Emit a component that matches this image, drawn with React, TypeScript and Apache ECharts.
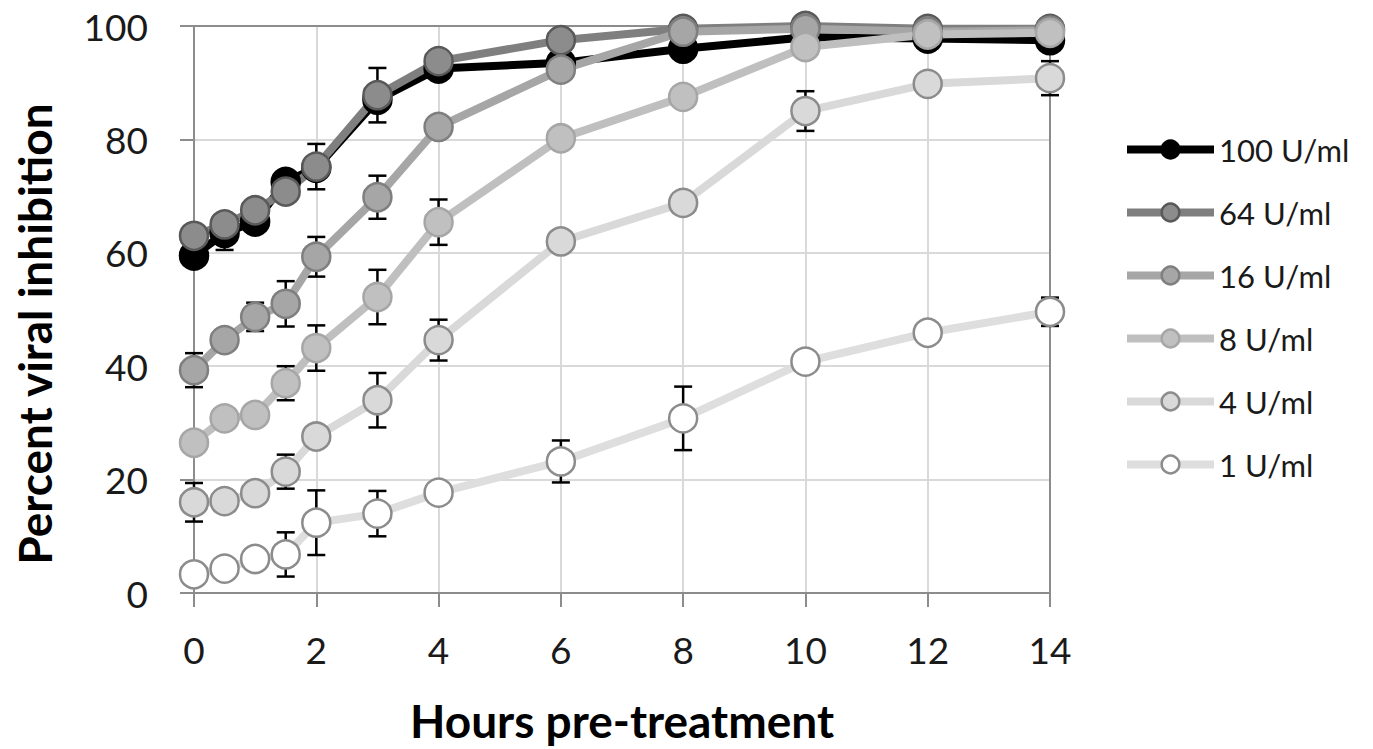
import React, { useEffect, useRef } from "react";
import * as echarts from "echarts";

// Hours pre-treatment (x values)
const hours = [0, 0.5, 1, 1.5, 2, 3, 4, 6, 8, 10, 12, 14];

// Percent viral inhibition for each IFN concentration
const u100 = [59.5, 63.5, 65.5, 72.5, 75, 87, 92.5, 93.5, 96, 98, 97.8, 97.5];
const u64 = [63, 65, 67.5, 70.8, 75.2, 87.8, 93.8, 97.5, 99.5, 100, 99.5, 99.5];
const u16 = [39.3, 44.6, 48.7, 51, 59.3, 69.8, 82.2, 92.3, 99, 99.5, 99, 99.2];
const u8 = [26.5, 30.8, 31.4, 37, 43.2, 52.2, 65.4, 80.2, 87.5, 96.3, 98.5, 98.8];
const u4 = [16, 16.2, 17.6, 21.4, 27.6, 34, 44.6, 62, 68.8, 85, 89.8, 90.8];
const u1 = [3.3, 4.3, 6, 6.8, 12.4, 14, 17.7, 23.2, 30.8, 40.8, 45.9, 49.6];

// Error (± half-range); 0 = no visible error bar
const e100 = [0, 3, 0, 0, 0, 0, 0, 0, 0, 0, 0, 0];
const e64 = [0, 0, 0, 0, 4, 4.8, 0, 0, 0, 0, 0, 0];
const e16 = [3, 0, 2.5, 4, 3.5, 3.8, 0, 0, 0, 0, 0, 0];
const e8 = [0, 0, 0, 3, 4, 4.8, 4, 1.5, 0, 0, 0, 0];
const e4 = [3.4, 0, 0, 3, 0, 4.8, 3.6, 1.5, 0, 3.5, 0, 3];
const e1 = [0, 0, 0, 3.9, 5.7, 4, 0, 3.7, 5.6, 0, 0, 2.5];

const seriesNames = ["100 U/ml", "64 U/ml", "16 U/ml", "8 U/ml", "4 U/ml", "1 U/ml"];
const seriesValues = [u100, u64, u16, u8, u4, u1];
const seriesErrors = [e100, e64, e16, e8, e4, e1];

const lineColors = ["#000000", "#7f7f7f", "#a6a6a6", "#bfbfbf", "#d9d9d9", "#dedede"];
const fillColors = ["#000000", "#8c8c8c", "#a6a6a6", "#c0c0c0", "#d9d9d9", "#ffffff"];
const borderColors = ["#000000", "#595959", "#7f7f7f", "#a6a6a6", "#8c8c8c", "#8c8c8c"];

const FONT = "Lato, 'Open Sans', sans-serif";

export default function App() {
  const ref = useRef<HTMLDivElement>(null);

  useEffect(() => {
    if (!ref.current) return;
    const chart = echarts.init(ref.current, undefined, { renderer: "svg" });

    const lineSeries = seriesNames.map((name, i) => ({
      name,
      type: "line",
      z: 3,
      data: hours.map((h, j) => [h, seriesValues[i][j]]),
      symbol: "circle",
      symbolSize: 28,
      showSymbol: true,
      lineStyle: { color: lineColors[i], width: 8 },
      itemStyle: { color: fillColors[i], borderColor: borderColors[i], borderWidth: 2.5 },
      emphasis: { disabled: true },
    }));

    const errorSeries = seriesNames.map((name, i) => ({
      type: "custom",
      name: name + " error",
      z: 2,
      data: hours
        .map((h, j) => [h, seriesValues[i][j] - seriesErrors[i][j], seriesValues[i][j] + seriesErrors[i][j], seriesErrors[i][j]])
        .filter((d) => d[3] > 0),
      encode: { x: 0, y: [1, 2] },
      renderItem: (params: any, api: any) => {
        const x = api.value(0);
        const lo = api.coord([x, api.value(1)]);
        const hi = api.coord([x, api.value(2)]);
        const hw = 9;
        const st = { stroke: "#000", lineWidth: 2.5 };
        return {
          type: "group",
          children: [
            { type: "line", shape: { x1: lo[0], y1: lo[1], x2: hi[0], y2: hi[1] }, style: st },
            { type: "line", shape: { x1: hi[0] - hw, y1: hi[1], x2: hi[0] + hw, y2: hi[1] }, style: st },
            { type: "line", shape: { x1: lo[0] - hw, y1: lo[1], x2: lo[0] + hw, y2: lo[1] }, style: st },
          ],
        };
      },
    }));

    const axisGray = "#8c8c8c";

    chart.setOption({
      animation: false,
      backgroundColor: "#ffffff",
      grid: { left: 194, top: 26, width: 856, height: 567, containLabel: false },
      legend: {
        data: seriesNames.map((name, i) => ({
          name,
          lineStyle: { color: lineColors[i], width: 8 },
          itemStyle: { color: fillColors[i], borderColor: borderColors[i], borderWidth: 2.5 },
        })),
        orient: "vertical",
        left: 1123,
        top: 134,
        itemWidth: 87,
        itemHeight: 22,
        itemGap: 32,
        padding: 0,
        textStyle: { fontFamily: FONT, fontSize: 31, color: "#1a1a1a" },
        selectedMode: false,
      },
      xAxis: [
        {
          type: "value",
          min: 0,
          max: 14,
          interval: 2,
          name: "Hours pre-treatment",
          nameLocation: "middle",
          nameGap: 104,
          nameTextStyle: { fontFamily: FONT, fontSize: 46, fontWeight: "bold", color: "#000" },
          axisLine: { show: true, onZero: false, lineStyle: { color: axisGray, width: 2 } },
          axisTick: { show: true, length: 14, lineStyle: { color: axisGray, width: 2 } },
          axisLabel: { fontFamily: FONT, fontSize: 37, color: "#1a1a1a", margin: 38 },
          splitLine: { show: true, lineStyle: { color: "#d9d9d9", width: 2 } },
        },
        {
          type: "value",
          position: "top",
          min: 0,
          max: 14,
          interval: 2,
          axisLine: { show: true, onZero: false, lineStyle: { color: axisGray, width: 2 } },
          axisTick: { show: false },
          axisLabel: { show: false },
          splitLine: { show: false },
        },
      ],
      yAxis: [
        {
          type: "value",
          min: 0,
          max: 100,
          interval: 20,
          axisLine: { show: true, onZero: false, lineStyle: { color: axisGray, width: 2 } },
          axisTick: { show: true, length: 14, lineStyle: { color: axisGray, width: 2 } },
          axisLabel: { fontFamily: FONT, fontSize: 37, color: "#1a1a1a", margin: 46 },
          splitLine: { show: true, lineStyle: { color: "#d9d9d9", width: 2 } },
        },
        {
          type: "value",
          position: "right",
          min: 0,
          max: 100,
          interval: 20,
          axisLine: { show: true, onZero: false, lineStyle: { color: axisGray, width: 2 } },
          axisTick: { show: false },
          axisLabel: { show: false },
          splitLine: { show: false },
        },
      ],
      graphic: [
        {
          type: "text",
          x: 34,
          y: 334,
          rotation: Math.PI / 2,
          style: {
            text: "Percent viral inhibition",
            fontFamily: FONT,
            fontSize: 46,
            fontWeight: "bold",
            fill: "#000",
            textAlign: "center",
            textVerticalAlign: "middle",
          },
        },
      ],
      series: [...errorSeries, ...lineSeries],
    });

    return () => chart.dispose();
  }, []);

  return (
    <div
      ref={ref}
      style={{ position: "absolute", left: 0, top: 0, width: 1373, height: 749, background: "#fff" }}
    />
  );
}
